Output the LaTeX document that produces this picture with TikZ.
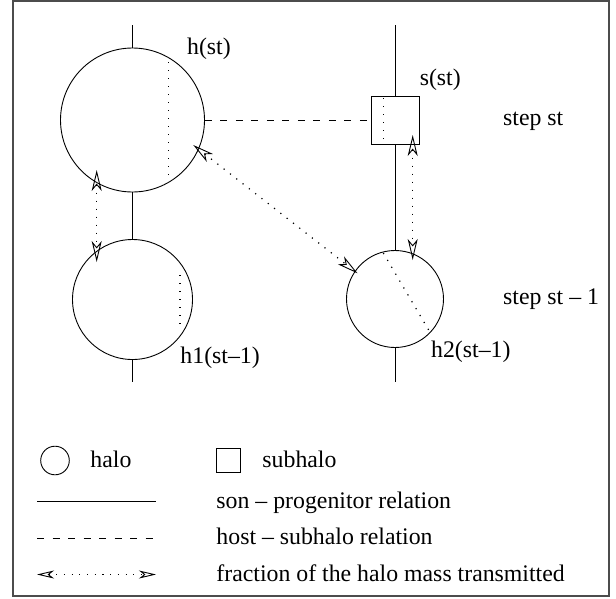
\documentclass[tikz,border=0pt]{standalone}
\usepackage{fontspec}
\setmainfont{Liberation Serif}
\usetikzlibrary{arrows.meta}
\begin{document}
\begin{tikzpicture}[x=1pt,y=-1pt,line width=0.9pt,
  halo/.style={draw,circle,inner sep=0pt,minimum size=#1},
  sub/.style={draw,rectangle,inner sep=0pt,minimum size=#1},
  lbl/.style={anchor=base west,inner sep=0pt,font=\fontsize{23.8}{28}\selectfont},
  hostline/.style={dash pattern=on 7pt off 8.5pt},
  chord/.style={line width=1.2pt,dash pattern=on 1.2pt off 6.8pt},
  mass/.style={line width=1.2pt,dash pattern=on 1.2pt off 6.8pt,
    {Stealth[open,length=21pt,width=10pt,inset=6pt,line width=0.9pt]}-{Stealth[open,length=21pt,width=10pt,inset=6pt,line width=0.9pt]}},
  smallmass/.style={line width=1.1pt,dash pattern=on 1.1pt off 6.6pt,
    {Stealth[open,length=17pt,width=8pt,inset=5pt,line width=0.9pt]}-{Stealth[open,length=17pt,width=8pt,inset=5pt,line width=0.9pt]}}]
\useasboundingbox (0,0) rectangle (616,598);
\draw[black!70,line width=1.4pt] (13,1) rectangle (609,596);

% main nodes
\node[halo=144pt] (h) at (132.5,120) {};
\node[halo=120pt] (h1) at (132.5,299.5) {};
\node[halo=97pt] (h2) at (395,299) {};
\node[sub=48pt] (s) at (395,120) {};

\coordinate (hT) at (132.5,25);
\coordinate (h1B) at (132.5,382);
\coordinate (sT) at (395,25);
\coordinate (h2B) at (395,382);

% son - progenitor relations
\draw (hT) -- (h.north);
\draw (h.south) -- (h1.north);
\draw (h1.south) -- (h1B);
\draw (sT) -- (s.north);
\draw (s.south) -- (h2.north);
\draw (h2.south) -- (h2B);

% host - subhalo relation
\draw[hostline] (h.east) -- (s.west);

% dotted chords
\draw[chord] (168.3,62) -- (168.3,176);
\draw[chord] (180,275) -- (180,329);
\draw[chord] (383.3,98) -- (383.3,144);
\draw[chord] (383.3,253) -- (431,334);

% mass fractions
\coordinate (m1a) at (96.7,170);
\coordinate (m1b) at (96.7,262);
\coordinate (m2a) at (193.3,145);
\coordinate (m2b) at (357.5,273.3);
\coordinate (m3a) at (412.7,135);
\coordinate (m3b) at (412.7,260);
\draw[mass] (m1a) -- (m1b);
\draw[mass] (m2a) -- (m2b);
\draw[mass] (m3a) -- (m3b);

% labels
\node[lbl] (lh) at (186.7,54) {h(st)};
\node[lbl] (ls) at (419.3,85) {s(st)};
\node[lbl] (lstep) at (502.7,125) {step st};
\node[lbl] (lstep1) at (502.7,304) {step st -- 1};
\node[lbl] (lh1) at (180,363) {h1(st--1)};
\node[lbl] (lh2) at (430.7,357) {h2(st--1)};

% legend
\node[halo=28.6pt] (kc) at (55,460.5) {};
\node[lbl] (kct) at (90,467) {halo};
\node[sub=24pt] (ks) at (228,460.3) {};
\node[lbl] (kst) at (262,467) {subhalo};

\coordinate (k1a) at (37,501.7);
\coordinate (k1b) at (156,501.7);
\coordinate (k2a) at (37,538.3);
\coordinate (k2b) at (156,538.3);
\coordinate (k3a) at (37,574.5);
\coordinate (k3b) at (156,574.5);
\draw (k1a) -- (k1b);
\draw[hostline] (k2a) -- (k2b);
\draw[smallmass] (k3a) -- (k3b);
\node[lbl] (k1t) at (216,508) {son -- progenitor relation};
\node[lbl] (k2t) at (216,544.5) {host -- subhalo relation};
\node[lbl] (k3t) at (216,581) {fraction of the halo mass transmitted};
\end{tikzpicture}
\end{document}
